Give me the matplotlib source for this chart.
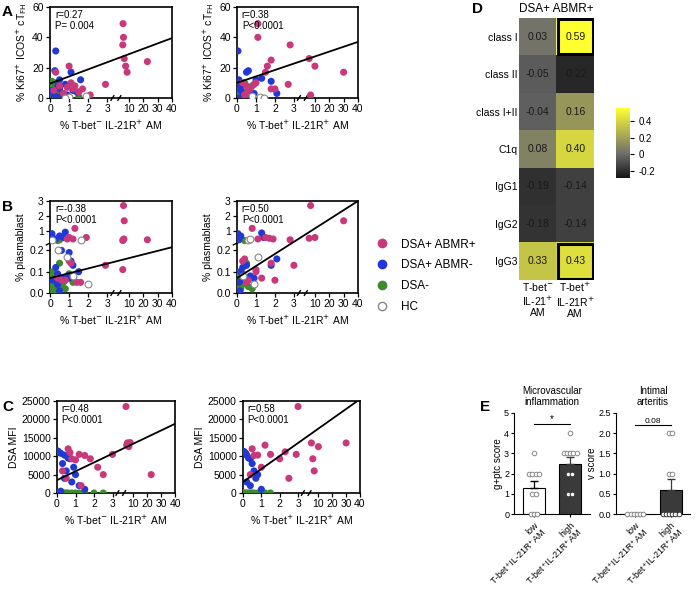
import numpy as np
import matplotlib
matplotlib.use("Agg")
import matplotlib.pyplot as plt
from matplotlib.colors import LinearSegmentedColormap
from matplotlib.lines import Line2D

plt.rcParams['font.family'] = ['Liberation Sans', 'DejaVu Sans']
PINK, BLUE, GREEN = '#c8387a', '#2238d6', '#3f8a2c'

# ---------------- data ----------------
A1 = dict(
    pink=([0.2,0.3,0.5,0.7,0.9,1.0,1.1,1.2,1.3,1.5,1.7,2.1,2.9,6,6.2,6.5,7,8,9,23],
          [5,17,8,3,7,21,10,6,8,4,6,2,9,35,49,40,26,21,17,24]),
    blue=([0.1,0.2,0.25,0.3,0.4,0.5,0.6,0.7,0.8,0.9,1.1,1.2,1.4,1.6,0.3,0.5,0.2],
          [5,2,18,31,8,12,1,3,9,2,17,5,4,12,1,6,0]),
    green=([0,0.05,0.1,0.15,0.2,0.3,0.4,0.5,0.6,1.5,0.1,0.3],
           [0,3,11,6,1,10,4,0,2,1,8,0]),
    hc=([1.9,1.0,0.8],[1,0.5,0]))
A1_line = ([0,40],[9.5,39.5])
A2 = dict(
    pink=([0.3,0.5,0.7,0.9,1.0,1.1,1.1,1.5,1.6,1.8,2.0,2.7,2.8,6,10,30,0.5,0.4,7,1.8],
          [10,8,6,9,10,49,40,17,21,6,6,9,35,26,21,17,3,2,2,25]),
    blue=([0.05,0.1,0.2,0.5,0.6,0.7,1.0,1.3,1.8,2.1,0.3,0.2,0.9,0.1],
          [31,12,8,17,18,2,12,13,11,3,1,5,3,0]),
    green=([0,0.05,0.1,0.2,0.3,0.4,0.5,0.6,0.1,0.2,0.8],
           [0,3,11,6,1,10,4,0,2,1,8]),
    hc=([0.8,1.2,1.4],[1,0.5,0]))
A2_line = ([0,40],[10,37])

B1 = dict(
    pink=([0.4,0.6,0.8,1.0,1.1,1.3,1.9,1.2,2.9,6,6.5,7,6.3,6.8,23,0.9,1.0,1.4,1.6,6],
          [0.07,0.06,0.06,0.15,0.14,1.2,0.6,0.5,0.13,0.11,2.7,1.7,0.45,0.5,0.45,0.5,0.6,0.05,0.05,0.4]),
    blue=([0.1,0.2,0.3,0.4,0.5,0.6,0.7,0.8,0.9,1.0,1.1,1.2,0.15,0.3,0.5,0.7,1.5,1.0,0.4],
          [0.85,0.5,0.12,0.09,0.7,0.2,0.6,0.95,0.08,0.19,0.15,0.13,0.06,0.5,0.01,0.07,0.1,0.07,0.04]),
    green=([0,0.05,0.1,0.15,0.2,0.3,0.4,0.5,0.6,0.7,0.8,1.0,1.2,0.1,0.3,0.5],
           [0.01,0.03,0.05,0.1,0.02,0.04,0.4,0.14,0.03,0.05,0.02,0.09,0.05,0.08,0.01,0.45]),
    hc=([0.1,0.4,1.6,2.0,0.9,1.2],[0.42,0.2,0.45,0.04,0.17,0.08]))
B1_line = ([0,40],[0.07,0.215])
B2 = dict(
    pink=([0.3,0.4,0.5,0.8,1.0,1.1,1.3,1.5,1.7,1.9,2.0,2.8,3,7,10,30,0.6,1.0,1.8,6],
          [0.15,0.16,0.05,1.2,0.1,0.5,0.07,0.6,0.55,0.5,0.06,0.45,0.13,2.7,0.6,1.7,0.06,0.11,0.14,0.55]),
    blue=([0.05,0.1,0.2,0.3,0.5,0.7,0.9,1.3,1.4,2.1,1.8,0.2,0.4,0.1,0.15],
          [0.85,0.45,0.7,0.12,0.13,0.08,0.07,0.9,0.6,0.16,0.13,0.1,0.06,0.05,0.01]),
    green=([0,0.05,0.1,0.15,0.2,0.3,0.4,0.5,0.6,0.1,0.3,0.8,0.7],
           [0.01,0.03,0.05,0.1,0.02,0.04,0.4,0.14,0.03,0.08,0.09,0.02,0.45]),
    hc=([0.6,0.7,1.1,0.9,0.3],[0.45,0.5,0.17,0.04,0.08]))
B2_line = ([0,40],[0.07,3.0])

C1 = dict(
    pink=([0.3,0.6,0.7,0.8,1.0,1.2,1.5,1.8,2.2,2.5,3,5,5.5,6,6.5,7,8,23,0.5,1.3],
          [6000,12000,11000,9300,9000,10500,10200,9300,7000,5000,10500,23500,13000,13600,13500,12600,13700,5000,4000,2000]),
    blue=([0.05,0.1,0.2,0.3,0.4,0.5,0.6,0.7,0.8,0.9,1.0,1.2,1.5,0.2,0.4],
          [11400,11000,10800,8000,10300,6000,9500,9300,3000,7000,5000,2000,1000,500,4000]),
    green=([0,0.1,0.2,0.3,0.4,0.5,0.6,0.8,1.0,1.2,1.5,2.0,2.5],
           [0,0,0,0,0,0,0,0,0,0,0,0,0]),
    hc=([],[]))
C1_line = ([0,40],[3500,18800])
C2 = dict(
    pink=([0.5,0.6,0.8,1.2,1.5,2.0,2.3,2.9,3,5,6,10,30,0.4,1.0,2.5,7],
          [12000,10200,10300,13000,10500,9300,11200,10500,23500,13600,9300,12600,13600,5000,7000,4000,6000]),
    blue=([0.05,0.1,0.15,0.2,0.3,0.4,0.5,0.6,0.8,0.2,0.4,0.7,1.0],
          [11300,11000,10800,10300,9500,9300,8000,6000,5000,3000,2000,4000,1000]),
    green=([0,0.1,0.2,0.3,0.4,0.5,0.6,0.8,1.0,1.2,1.5],
           [0,0,0,0,0,0,0,0,0,0,0]),
    hc=([],[]))
C2_line = ([0,40],[3000,25500])

stats = {'A1':'r=0.27\nP= 0.004','A2':'r=0.38\nP<0.0001','B1':'r=-0.38\nP<0.0001',
         'B2':'r=0.50\nP<0.0001','C1':'r=0.48\nP<0.0001','C2':'r=0.58\nP<0.0001'}

D_rows = ['class I','class II','class I+II','C1q','IgG1','IgG2','IgG3']
D_tneg = [0.03,-0.05,-0.04,0.08,-0.19,-0.18,0.33]
D_tpos = [0.59,-0.22,0.16,0.40,-0.14,-0.14,0.43]

E1_low = [3,2,2,2,2,1,1,0,0,0]
E1_high = [4,3,3,3,3,3,2,2,1,1]
E2_low = [0,0,0,0,0,0]
E2_high = [2,2,1,1,0,0,0,0,0,0]
E1_sem = [0.35,0.3]
E2_sem = [0.0,0.27]

# ---------------- scales ----------------
def xf(x):
    x = np.asarray(x, float)
    return np.where(x <= 3.2, x, 3.35 + 0.0757 * x)
def xi(p):
    p = np.asarray(p, float)
    return np.where(p <= 3.2, p, np.where(p < 3.35 + 0.0757*3.2, 3.2, (p - 3.35) / 0.0757))
def yf(y):
    y = np.asarray(y, float)
    return np.where(y <= 0.22, y * 280, 61 + 20 * y)
def yi(p):
    p = np.asarray(p, float)
    return np.where(p <= 61.6, p / 280, np.where(p < 65.4, 0.22, (p - 61) / 20))

fig = plt.figure(figsize=(7.0, 5.93), dpi=100)
W, H = 700, 593
def ax_px(x0, y0, x1, y1):
    return fig.add_axes([x0/W, 1-y1/H, (x1-x0)/W, (y1-y0)/H])

def scatter_panel(ax, d, line, key, ylab, xlab, kind):
    ax.set_xscale('function', functions=(xf, xi))
    ax.set_xlim(0, 40)
    for k, c in [('green', GREEN), ('blue', BLUE), ('pink', PINK)]:
        ax.scatter(d[k][0], d[k][1], s=26, c=c, edgecolors='none', zorder=3)
    if d['hc'][0]:
        ax.scatter(d['hc'][0], d['hc'][1], s=24, facecolors='white', edgecolors='#888888', linewidths=0.8, zorder=3)
    ax.plot(line[0], line[1], color='black', lw=1.3, zorder=4)
    ax.set_xticks([0,1,2,3,10,20,30,40])
    ax.set_xticklabels(['0','1','2','3','10','20','30','40'])
    ax.xaxis.set_minor_locator(matplotlib.ticker.NullLocator())
    if kind == 'A':
        ax.set_ylim(0, 60); ax.set_yticks([0,20,40,60])
    elif kind == 'B':
        ax.set_yscale('function', functions=(yf, yi))
        ax.set_ylim(0, 3); ax.set_yticks([0,0.1,0.2,1,2,3])
        ax.set_yticklabels(['0.0','0.1','0.2','1','2','3'])
        ax.yaxis.set_minor_locator(matplotlib.ticker.NullLocator())
    else:
        ax.set_ylim(0, 25000); ax.set_yticks([0,5000,10000,15000,20000,25000])
    ax.tick_params(labelsize=7.5, length=3, width=0.9, pad=1.5)
    for s in ax.spines.values():
        s.set_linewidth(1.2)
    ax.set_ylabel(ylab, fontsize=7.5, labelpad=2)
    ax.set_xlabel(xlab, fontsize=7.5, labelpad=3)
    ax.text(0.04, 0.97, stats[key], transform=ax.transAxes, fontsize=7, va='top', linespacing=1.2)
    p = xf(3.2); q = xf(4.5)
    for xp in [(p - xf(0)) / (xf(40) - xf(0)) + 0.01, (q - xf(0)) / (xf(40) - xf(0)) - 0.01]:
        ax.plot([xp-0.012, xp+0.012], [-0.025, 0.025], transform=ax.transAxes, color='black', lw=1, clip_on=False)
    if kind == 'B':
        yp = (yf(0.235) - yf(0)) / (yf(3) - yf(0))
        ax.plot([-0.03, 0.03], [yp-0.02, yp+0.02], transform=ax.transAxes, color='black', lw=1, clip_on=False)

xl_neg = '% T-bet$^{-}$ IL-21R$^{+}$ AM'
xl_pos = '% T-bet$^{+}$ IL-21R$^{+}$ AM'
yA = '% Ki67$^{+}$ ICOS$^{+}$ cT$_{\\mathrm{FH}}$'
panels = [
    (ax_px(50, 7, 172, 98), A1, A1_line, 'A1', yA, xl_neg, 'A'),
    (ax_px(237, 7, 358, 98), A2, A2_line, 'A2', yA, xl_pos, 'A'),
    (ax_px(50, 201, 172, 293), B1, B1_line, 'B1', '% plasmablast', xl_neg, 'B'),
    (ax_px(237, 201, 358, 293), B2, B2_line, 'B2', '% plasmablast', xl_pos, 'B'),
    (ax_px(57, 401, 175, 493), C1, C1_line, 'C1', 'DSA MFI', xl_neg, 'C'),
    (ax_px(243, 401, 360, 493), C2, C2_line, 'C2', 'DSA MFI', xl_pos, 'C'),
]
for args in panels:
    scatter_panel(*args)

handles = [Line2D([], [], marker='o', ls='', color=PINK, ms=6),
           Line2D([], [], marker='o', ls='', color=BLUE, ms=6),
           Line2D([], [], marker='o', ls='', color=GREEN, ms=6),
           Line2D([], [], marker='o', ls='', mfc='white', mec='#888888', ms=6)]
fig.legend(handles, ['DSA+ ABMR+', 'DSA+ ABMR-', 'DSA-', 'HC'], loc='upper left',
           bbox_to_anchor=(360/W, 1-228/H), frameon=False, fontsize=8.5, handletextpad=0.6,
           labelspacing=0.75)

for lab, x, y in [('A', 2, 5), ('B', 2, 200), ('C', 2, 400), ('D', 472, 2), ('E', 480, 400)]:
    fig.text(x/W, 1-y/H, lab, fontsize=11, fontweight='bold', va='top')

# ---------------- D heatmap ----------------
cmap = LinearSegmentedColormap.from_list('gy', [(0, '#151515'), (0.34, '#6c6c6c'), (1.0, '#ffff30')])
axD = ax_px(519, 18, 594, 280)
M = np.array([D_tneg, D_tpos]).T
im = axD.imshow(M, cmap=cmap, vmin=-0.28, vmax=0.55, aspect='auto')
for i in range(M.shape[0]):
    for j in range(2):
        axD.text(j, i, f'{M[i, j]:.2f}', ha='center', va='center', fontsize=7.5, color='#1a1a1a')
for (i, j) in [(0, 1), (6, 1)]:
    axD.add_patch(plt.Rectangle((j-0.47, i-0.47), 0.94, 0.94, fill=False, lw=2.2, ec='black'))
axD.set_yticks(range(7)); axD.set_yticklabels(D_rows, fontsize=7.5)
axD.set_xticks([0, 1])
axD.set_xticklabels(['T-bet$^{-}$\nIL-21$^{+}$\nAM', 'T-bet$^{+}$\nIL-21R$^{+}$\nAM'], fontsize=7.5, linespacing=1.1)
axD.tick_params(length=0, pad=1)
for s in axD.spines.values():
    s.set_visible(False)
fig.text(556/W, 1-3/H, 'DSA+ ABMR+', fontsize=8.5, ha='center', va='top')
cax = ax_px(616, 108, 630, 178)
cb = fig.colorbar(im, cax=cax, ticks=[-0.2, 0, 0.2, 0.4])
cb.ax.set_yticklabels(['-0.2', '0', '0.2', '0.4'])
cb.ax.tick_params(labelsize=7, length=3)
cb.outline.set_visible(False)

# ---------------- E ----------------
def bar_panel(ax, low, high, sem, ylim, yt, ytl, ylab, title, sig, sigy):
    means = [np.mean(low), np.mean(high)]
    ax.bar([0, 1], means, width=0.62, color=['white', '#3a3a3a'], edgecolor='black', lw=0.8, zorder=2)
    for j in range(2):
        ax.errorbar(j, means[j], yerr=[[0], [sem[j]]], color='black' if j == 0 else '#3a3a3a',
                    capsize=3, lw=0.9, zorder=3)
    for j, vals in enumerate([low, high]):
        vals = np.array(vals, float)
        for v in np.unique(vals):
            n = int((vals == v).sum())
            xs = j + (np.arange(n) - (n-1)/2) * 0.09
            inside = (j == 1 and v < means[1])
            ax.scatter(xs, [v]*n, s=11, facecolors='white', edgecolors='#3a3a3a' if inside else '#888888',
                       lw=0.7, zorder=4, clip_on=False)
    ax.set_xlim(-0.55, 1.55); ax.set_ylim(*ylim)
    ax.set_yticks(yt); ax.set_yticklabels(ytl)
    ax.set_xticks([0, 1])
    ax.set_xticklabels(['low\nT-bet$^{+}$IL-21R$^{+}$AM', 'high\nT-bet$^{+}$IL-21R$^{+}$AM'],
                       rotation=45, ha='right', rotation_mode='anchor', fontsize=5.8, linespacing=1.0,
                       multialignment='right')
    ax.tick_params(labelsize=6.5, length=2.5, pad=1)
    ax.tick_params(axis='x', pad=2)
    ax.spines['top'].set_visible(False); ax.spines['right'].set_visible(False)
    ax.set_ylabel(ylab, fontsize=7, labelpad=1)
    ax.set_title(title, fontsize=7, pad=6, linespacing=1.1)
    ax.plot([0, 1], [sigy, sigy], color='black', lw=0.8)
    ax.text(0.5, sigy, sig, ha='center', va='bottom', fontsize=7 if sig == '*' else 6)

axE1 = ax_px(514, 413, 590, 514)
bar_panel(axE1, E1_low, E1_high, E1_sem, (0, 5), [0,1,2,3,4,5], ['0','1','2','3','4','5'],
          'g+ptc score', 'Microvascular\ninflammation', '*', 4.45)
axE2 = ax_px(616, 413, 690, 514)
bar_panel(axE2, E2_low, E2_high, E2_sem, (0, 2.5), [0,0.5,1,1.5,2,2.5],
          ['0.0','0.5','1.0','1.5','2.0','2.5'], 'v score', 'Intimal\narteritis', '0.08', 2.2)

fig.savefig('out.png', dpi=100)
